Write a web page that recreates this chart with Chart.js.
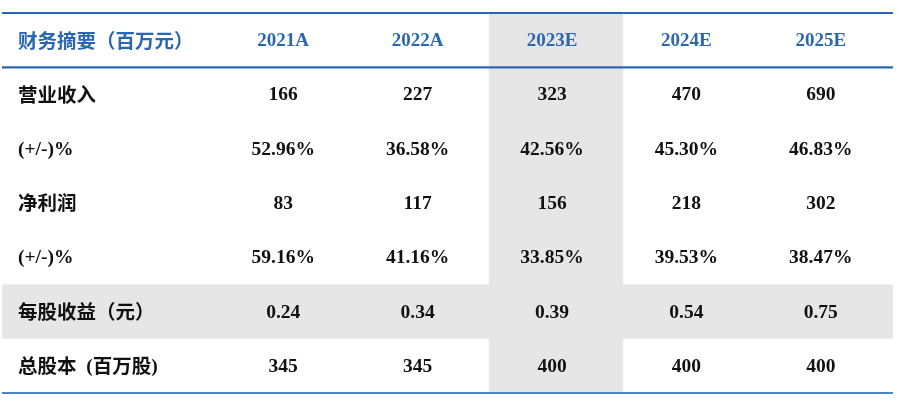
<!DOCTYPE html>
<html>
<head>
<meta charset="utf-8">
<script src="https://cdn.jsdelivr.net/npm/chart.js@4"></script>
<style>
html,body{margin:0;padding:0;background:#fff;}
#wrap{width:900px;height:401px;}
</style>
</head>
<body>
<div id="wrap"><canvas id="c" width="900" height="401"></canvas></div>
<script>
const headerLabel = '财务摘要（百万元）';
const years = ['2021A', '2022A', '2023E', '2024E', '2025E'];
const rowLabels = ['营业收入', '(+/-)%', '净利润', '(+/-)%', '每股收益（元）', '总股本 (百万股)'];
const revenue = ['166', '227', '323', '470', '690'];
const revenueGrowth = ['52.96%', '36.58%', '42.56%', '45.30%', '46.83%'];
const netProfit = ['83', '117', '156', '218', '302'];
const profitGrowth = ['59.16%', '41.16%', '33.85%', '39.53%', '38.47%'];
const eps = ['0.24', '0.34', '0.39', '0.54', '0.75'];
const shares = ['345', '345', '400', '400', '400'];
const highlightColumn = '2023E';
const highlightRow = '每股收益（元）';

const rows = [revenue, revenueGrowth, netProfit, profitGrowth, eps, shares];
const yLabels = [headerLabel].concat(rowLabels);

const BLUE = '#2a67b1';
const GRAY = '#e6e6e6';
const HEAD_FONT = 'bold 19px "Liberation Serif", "Times New Roman", serif';
const NUM_FONT = 'bold 19.5px "Liberation Serif", "Times New Roman", serif';
const CJK_FONT = 'bold 19.5px "Noto Sans CJK SC", "Liberation Serif", serif';

const tablePlugin = {
  id: 'tablePlugin',
  beforeDatasetsDraw(chart) {
    const ctx = chart.ctx;
    const x = chart.scales.x, y = chart.scales.y;
    const area = chart.chartArea;
    const colW = x.getPixelForValue(1) - x.getPixelForValue(0);
    const rowH = y.getPixelForValue(1) - y.getPixelForValue(0);
    const left = 2, right = area.right + 5;
    ctx.save();
    // highlighted row
    const ri = yLabels.indexOf(highlightRow);
    const ry = y.getPixelForValue(ri);
    ctx.fillStyle = GRAY;
    ctx.fillRect(left, ry - rowH / 2, right - left, rowH);
    // highlighted column
    const ci = years.indexOf(highlightColumn);
    const cx = x.getPixelForValue(ci) + 4;
    ctx.fillRect(cx - colW / 2, area.top, colW, area.bottom - area.top);
    // lines
    const hy = y.getPixelForValue(0) + rowH / 2;
    ctx.strokeStyle = BLUE;
    ctx.lineWidth = 2.2;
    ctx.beginPath(); ctx.moveTo(left, area.top); ctx.lineTo(right, area.top); ctx.stroke();
    ctx.beginPath(); ctx.moveTo(left, hy); ctx.lineTo(right, hy); ctx.stroke();
    ctx.strokeStyle = '#4a86c6';
    ctx.lineWidth = 1.8;
    ctx.beginPath(); ctx.moveTo(left, area.bottom); ctx.lineTo(right, area.bottom); ctx.stroke();

    ctx.textBaseline = 'middle';
    // header
    ctx.fillStyle = BLUE;
    ctx.textAlign = 'left';
    ctx.font = CJK_FONT;
    ctx.fillText(headerLabel, 18, y.getPixelForValue(0));
    ctx.textAlign = 'center';
    ctx.font = HEAD_FONT;
    years.forEach((yr, i) => ctx.fillText(yr, x.getPixelForValue(i), y.getPixelForValue(0) + 1));
    // rows
    ctx.fillStyle = '#111';
    rows.forEach((vals, r) => {
      const py = y.getPixelForValue(r + 1);
      const lab = rowLabels[r];
      ctx.textAlign = 'left';
      if (lab.startsWith('(')) { ctx.font = NUM_FONT; ctx.fillText(lab, 18, py + 1); }
      else if (lab.includes(' (')) {
        ctx.font = CJK_FONT;
        const parts = lab.split(' (');
        ctx.fillText(parts[0], 18, py);
        let w = ctx.measureText(parts[0]).width;
        ctx.font = NUM_FONT; ctx.fillText('  (', 18 + w, py + 1);
        w += ctx.measureText('  (').width;
        const inner = parts[1].replace(')', '');
        ctx.font = CJK_FONT; ctx.fillText(inner, 18 + w, py);
        w += ctx.measureText(inner).width;
        ctx.font = NUM_FONT; ctx.fillText(')', 18 + w, py + 1);
      } else { ctx.font = CJK_FONT; ctx.fillText(lab, 18, py); }
      ctx.textAlign = 'center';
      ctx.font = NUM_FONT;
      vals.forEach((v, i) => ctx.fillText(v, x.getPixelForValue(i), py + 1));
    });
    ctx.restore();
  }
};

new Chart(document.getElementById('c'), {
  type: 'bar',
  data: { labels: years, datasets: [] },
  options: {
    responsive: false,
    animation: false,
    events: [],
    layout: { padding: { left: 216, right: 12, top: 13, bottom: 8 } },
    plugins: { legend: { display: false }, tooltip: { enabled: false } },
    scales: {
      x: { type: 'category', display: false, offset: true },
      y: { type: 'category', labels: yLabels, display: false, offset: true }
    }
  },
  plugins: [tablePlugin]
});
</script>
</body>
</html>
